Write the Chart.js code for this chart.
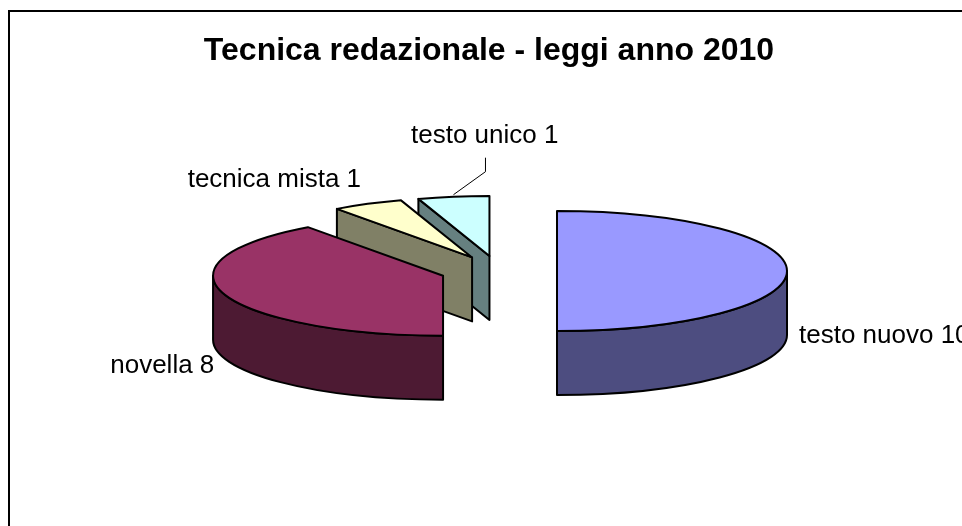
<!DOCTYPE html>
<html lang="it">
<head>
<meta charset="utf-8">
<title>Tecnica redazionale - leggi anno 2010</title>
<script src="https://cdn.jsdelivr.net/npm/chart.js@4/dist/chart.umd.min.js"></script>
<style>
  html, body { margin: 0; padding: 0; background: #fff; overflow: hidden; }
  #frame {
    position: absolute; left: 8px; top: 10px; width: 954px; height: 516px;
    border-left: 2px solid #000; border-top: 2px solid #000;
    box-sizing: border-box; overflow: hidden;
  }
  #chart-box { position: absolute; left: 0; top: 0; width: 958px; height: 514px; }
</style>
</head>
<body>
<div id="frame"><div id="chart-box"><canvas id="pie"></canvas></div></div>
<script>
const chartTitle = 'Tecnica redazionale - leggi anno 2010';
const categories = ['testo nuovo', 'novella', 'tecnica mista', 'testo unico'];
const values = [10, 8, 1, 1];
const topColors = ['#9999ff', '#993366', '#ffffcc', '#ccffff'];
const wallColors = ['#4d4d80', '#4d1a33', '#808066', '#668080'];

// pie geometry, in canvas pixels
const PIE_CX = 488.6;
const PIE_CY = 259;
const RADIUS = 230;
const SQUASH = 60 / 230;
const DEPTH = 64;
const EXPLODE = 58.4;
const OUTLINE = 2;

// label placement relative to the middle of each slice's rim
const labelOffsets = [[12, 72, 'left'], [-10, 79, 'right'], [-6.6, -17, 'right'], [-42.5, -53.7, 'left']];
const LABEL_FONT = '26px "Liberation Sans", Arial, sans-serif';

// chart.js' own arc offset also grows the radius, so the slices are pulled out here instead
class ExplodedPieController extends Chart.PieController {
  draw() {
    const ctx = this.chart.ctx;
    this.getMeta().data.forEach((arc) => {
      const half = (arc.startAngle + arc.endAngle) / 2;
      ctx.save();
      ctx.translate(Math.cos(half) * EXPLODE, Math.sin(half) * EXPLODE);
      arc.draw(ctx, this.chart.chartArea);
      ctx.restore();
    });
  }
}
ExplodedPieController.id = 'explodedPie';
ExplodedPieController.defaults = {};
Chart.register(ExplodedPieController);

function sliceCentre(arc) {
  const half = (arc.startAngle + arc.endAngle) / 2;
  return {
    x: PIE_CX + Math.cos(half) * EXPLODE,
    y: PIE_CY + Math.sin(half) * EXPLODE * SQUASH
  };
}

function rimPoint(c, angle) {
  return { x: c.x + Math.cos(angle) * RADIUS, y: c.y + Math.sin(angle) * RADIUS * SQUASH };
}

function drawRadialFace(ctx, c, angle, colour) {
  const p = rimPoint(c, angle);
  ctx.beginPath();
  ctx.moveTo(c.x, c.y);
  ctx.lineTo(p.x, p.y);
  ctx.lineTo(p.x, p.y + DEPTH);
  ctx.lineTo(c.x, c.y + DEPTH);
  ctx.closePath();
  ctx.fillStyle = colour;
  ctx.fill();
  ctx.stroke();
}

function drawOuterWall(ctx, c, from, to, colour) {
  ctx.beginPath();
  ctx.ellipse(c.x, c.y, RADIUS, RADIUS * SQUASH, 0, from, to);
  ctx.ellipse(c.x, c.y + DEPTH, RADIUS, RADIUS * SQUASH, 0, to, from, true);
  ctx.closePath();
  ctx.fillStyle = colour;
  ctx.fill();
  ctx.stroke();
}

// extrudes the library's flat arcs into the tilted 3D look of the original
const tiltedPie = {
  id: 'tiltedPie',
  beforeDatasetsDraw(chart) {
    const ctx = chart.ctx;
    const arcs = chart.getDatasetMeta(0).data;
    ctx.save();
    ctx.strokeStyle = '#000';
    ctx.lineWidth = OUTLINE;
    ctx.lineJoin = 'round';
    // back slices first
    for (let i = arcs.length - 1; i >= 0; i--) {
      const c = sliceCentre(arcs[i]);
      if (-Math.cos(arcs[i].startAngle) > 0.001) drawRadialFace(ctx, c, arcs[i].startAngle, wallColors[i]);
      if (Math.cos(arcs[i].endAngle) > 0.001) drawRadialFace(ctx, c, arcs[i].endAngle, wallColors[i]);
      const from = Math.max(arcs[i].startAngle, 0);
      const to = Math.min(arcs[i].endAngle, Math.PI);
      if (to > from) drawOuterWall(ctx, c, from, to, wallColors[i]);
    }
    ctx.restore();
    ctx.save();
    const el = arcs[0];
    ctx.translate(PIE_CX, PIE_CY);
    ctx.scale(1, SQUASH);
    ctx.translate(-el.x, -el.y);
  },
  afterDatasetsDraw(chart) {
    const ctx = chart.ctx;
    ctx.restore();
    const arcs = chart.getDatasetMeta(0).data;
    ctx.save();
    ctx.strokeStyle = '#000';
    ctx.lineWidth = OUTLINE;
    ctx.lineJoin = 'round';
    arcs.forEach((arc) => {
      const c = sliceCentre(arc);
      ctx.beginPath();
      ctx.moveTo(c.x, c.y);
      ctx.ellipse(c.x, c.y, RADIUS, RADIUS * SQUASH, 0, arc.startAngle, arc.endAngle);
      ctx.closePath();
      ctx.stroke();
    });

    ctx.font = LABEL_FONT;
    ctx.fillStyle = '#000';
    ctx.textBaseline = 'alphabetic';
    arcs.forEach((arc, i) => {
      const p = rimPoint(sliceCentre(arc), (arc.startAngle + arc.endAngle) / 2);
      const [dx, dy, align] = labelOffsets[i];
      ctx.textAlign = align;
      ctx.fillText(categories[i] + ' ' + values[i], p.x + dx, p.y + dy);
    });

    // leader line for the last slice
    const last = arcs[arcs.length - 1];
    const start = rimPoint(sliceCentre(last), (last.startAngle + last.endAngle) / 2);
    ctx.lineWidth = 1;
    ctx.beginPath();
    ctx.moveTo(start.x, start.y - 2);
    ctx.lineTo(start.x + 32, start.y - 25);
    ctx.lineTo(start.x + 32, start.y - 39);
    ctx.stroke();
    ctx.restore();
  }
};

new Chart(document.getElementById('pie'), {
  type: 'explodedPie',
  data: {
    labels: categories,
    datasets: [{
      data: values,
      backgroundColor: topColors,
      borderWidth: 0,
      clip: false
    }]
  },
  options: {
    responsive: true,
    maintainAspectRatio: false,
    animation: false,
    radius: RADIUS,
    events: [],
    plugins: {
      legend: { display: false },
      tooltip: { enabled: false },
      title: {
        display: true,
        text: chartTitle,
        color: '#000',
        font: { family: '"Liberation Sans", Arial, sans-serif', size: 32, weight: 'bold' },
        padding: { top: 20, bottom: 10 }
      }
    }
  },
  plugins: [tiltedPie]
});
</script>
</body>
</html>
